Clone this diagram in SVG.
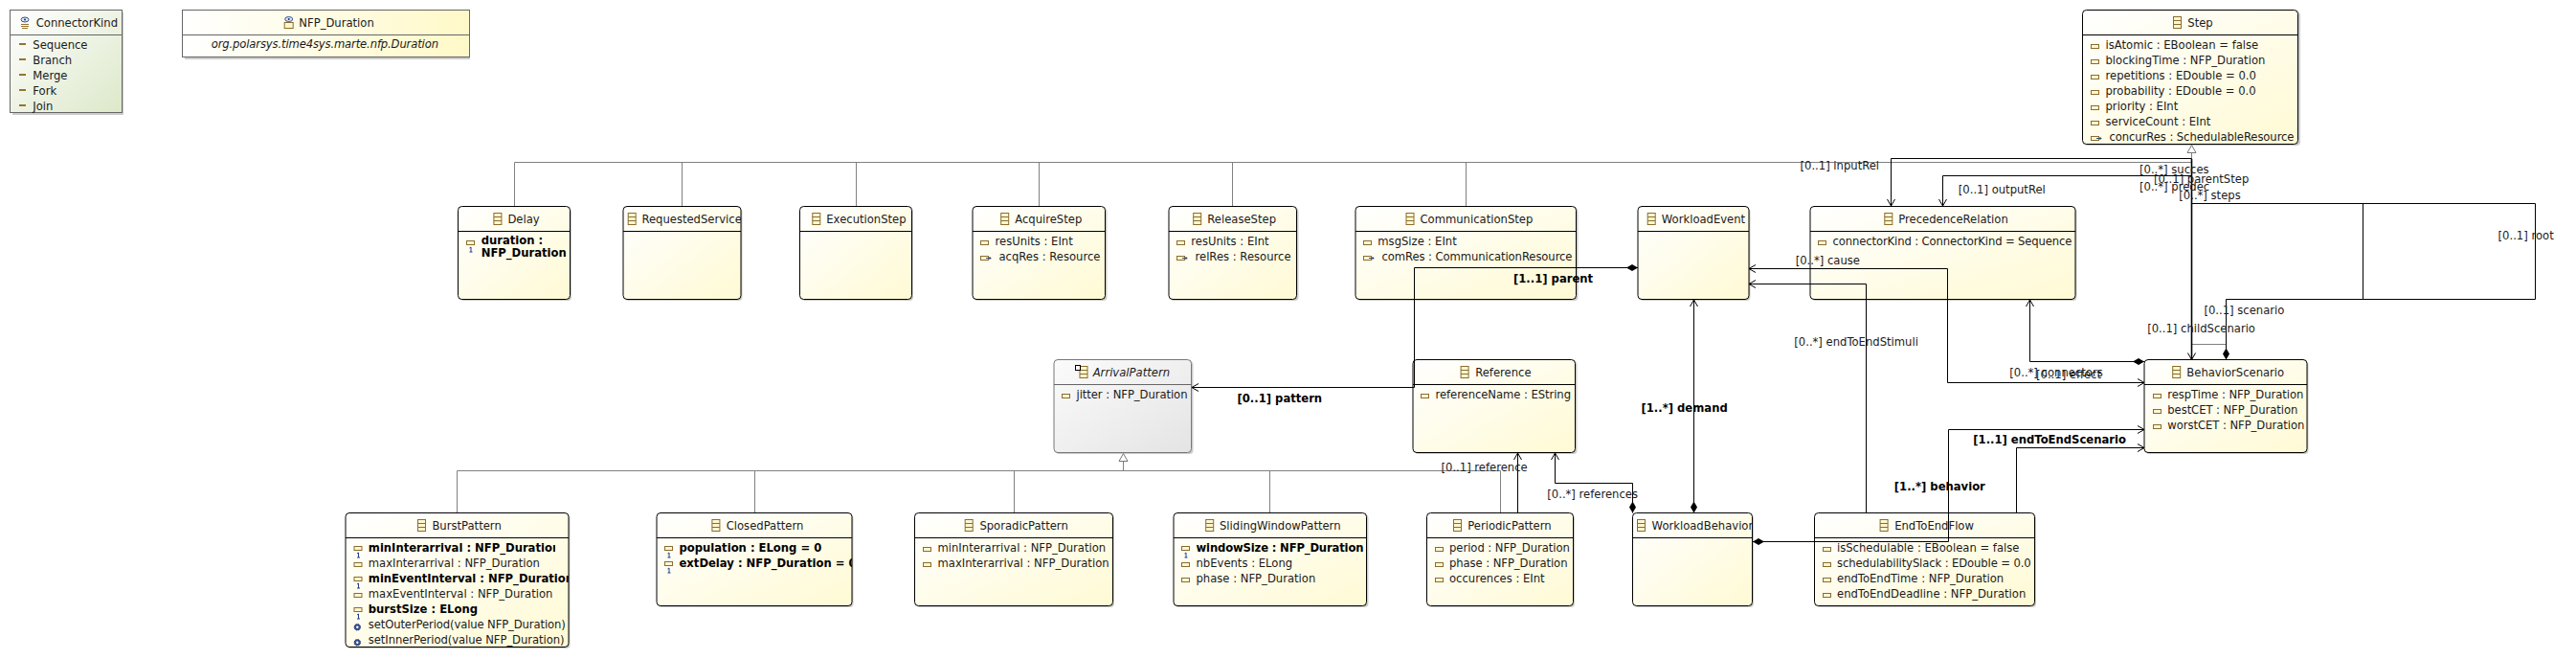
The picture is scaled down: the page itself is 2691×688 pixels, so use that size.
<svg xmlns="http://www.w3.org/2000/svg" width="2691" height="688" viewBox="0 0 2691 688">
<style>
text{font-family:"DejaVu Sans","Liberation Sans",sans-serif;font-size:11.6px;fill:#1a1a1a}
.t{font-size:11.6px}
.b,.lb{font-weight:bold;fill:#000}
.i{font-style:italic}
.box{fill:url(#gc);stroke:#000;stroke-width:1}
.abs{fill:url(#ga);stroke:#777;stroke-width:1}
.en{fill:url(#ge);stroke:#666;stroke-width:1}
.dt{fill:url(#gd);stroke:#666;stroke-width:1}
.sh{fill:#000;opacity:.2;stroke:none}
.h{stroke:#000;stroke-width:1}
.hg{stroke:#666;stroke-width:1}
.c{fill:none;stroke:#000;stroke-width:1}
.g{fill:none;stroke:#808080;stroke-width:1}
.tri{fill:#fff;stroke:#777;stroke-width:1}
.ic{fill:#fff6cf;stroke:#8a6d2f;stroke-width:1}
</style>
<defs>
<linearGradient id="gc" x1="0" y1="0" x2="1" y2="1"><stop offset="0" stop-color="#ffffff"/><stop offset="1" stop-color="#fffad4"/></linearGradient>
<linearGradient id="ga" x1="0" y1="0" x2="1" y2="1"><stop offset="0" stop-color="#fbfbfb"/><stop offset="1" stop-color="#e4e4e4"/></linearGradient>
<linearGradient id="ge" x1="0" y1="0" x2="1" y2="1"><stop offset="0" stop-color="#ffffff"/><stop offset="1" stop-color="#dce8c9"/></linearGradient>
<linearGradient id="gd" x1="0" y1="0" x2="1" y2="0"><stop offset="0" stop-color="#ffffff"/><stop offset="1" stop-color="#fff9c8"/></linearGradient>
<marker id="arr" markerUnits="userSpaceOnUse" markerWidth="12" markerHeight="12" refX="8" refY="6" orient="auto-start-reverse"><path d="M1,2 L8,6 L1,10" fill="none" stroke="#000" stroke-width="1"/></marker>
<marker id="dia" markerUnits="userSpaceOnUse" markerWidth="14" markerHeight="10" refX="13" refY="5" orient="auto-start-reverse"><path d="M1,5 L7,1.5 L13,5 L7,8.5 Z" fill="#000"/></marker>
<g id="icc"><rect class="ic" x=".5" y=".5" width="8" height="12"/><path d="M.5 4.5H8.5M.5 8.5H8.5" stroke="#8a6d2f" fill="none"/></g>
<g id="ica"><rect class="ic" x=".5" y=".5" width="8" height="4"/></g>
<g id="icr"><rect class="ic" x=".5" y=".5" width="8" height="4"/><path d="M6 2.5H11M9.5 1L11 2.5L9.5 4" stroke="#2c4a7a" fill="none"/></g>
<g id="icq"><rect class="ic" x=".5" y="-.5" width="8" height="4"/><path d="M3.5 7L5 6V11M3.5 11H6.500" stroke="#1f3f8f" fill="none"/></g>
<g id="ico"><circle cx="3.800" cy="3.800" r="3.200" fill="#39508f" stroke="#1a2f70" stroke-dasharray="1.500 1"/><circle cx="3.800" cy="3.800" r="1.200" fill="#fff"/></g>
<g id="icl"><rect x="0" y="0" width="7" height="2" fill="#94752f"/></g>
<g id="ice"><path d="M1 8.500H9M1 10.500H9M2 12.500H8" stroke="#94752f" fill="none"/><ellipse cx="5" cy="3.500" rx="4" ry="2.500" fill="#dfe7f5" stroke="#39508f"/><circle cx="5" cy="3.500" r="1" fill="#1a2f70"/></g>
<g id="icd"><rect class="ic" x=".5" y="6.500" width="9" height="6"/><ellipse cx="5" cy="3" rx="4" ry="2.500" fill="#dfe7f5" stroke="#39508f"/><circle cx="5" cy="3" r="1" fill="#1a2f70"/></g>
<clipPath id="cRS"><rect x="651" y="215" width="123" height="98"/></clipPath>
<clipPath id="cB1"><rect x="361" y="535" width="219" height="141"/></clipPath>
<clipPath id="cB2"><rect x="361" y="535" width="233" height="141"/></clipPath>
<clipPath id="cCP"><rect x="686" y="535" width="204" height="98"/></clipPath>
<clipPath id="cWB"><rect x="1705" y="535" width="125" height="98"/></clipPath>
</defs>

<g id="ConnectorKind">
<rect class="sh" x="13" y="13" width="116" height="107"/><rect class="en" x="10.500" y="10.500" width="117" height="107"/><path class="hg" d="M11 36.500H127"/>
<use href="#ice" x="21" y="17"/><text class="t" x="37.700" y="28">ConnectorKind</text>
<use href="#icl" x="20" y="45"/><text x="34.300" y="51">Sequence</text>
<use href="#icl" x="20" y="61"/><text x="34.300" y="67">Branch</text>
<use href="#icl" x="20" y="77"/><text x="34.300" y="83">Merge</text>
<use href="#icl" x="20" y="93"/><text x="34.300" y="99">Fork</text>
<use href="#icl" x="20" y="109"/><text x="34.300" y="115">Join</text>
</g>
<g id="NFP_Duration">
<rect class="sh" x="193" y="13" width="298" height="49"/><rect class="dt" x="190.500" y="10.500" width="300" height="49"/><path class="hg" d="M191 36.500H490"/>
<use href="#icd" x="296.700" y="17"/><text class="t" x="312.300" y="28">NFP_Duration</text>
<text class="i" x="220.700" y="50" textLength="237.300">org.polarsys.time4sys.marte.nfp.Duration</text>
</g>
<g id="Step">
<rect class="sh" x="2177" y="12" width="226" height="140" rx="4"/><rect class="box" x="2175.500" y="10.500" width="225" height="140" rx="4"/><path class="h" d="M2176 36.500H2401"/>
<use href="#icc" x="2270" y="17"/><text class="t" x="2285.300" y="28">Step</text>
<use href="#ica" x="2184" y="46"/><text x="2199.500" y="51">isAtomic : EBoolean = false</text>
<use href="#ica" x="2184" y="62"/><text x="2199.500" y="67">blockingTime : NFP_Duration</text>
<use href="#ica" x="2184" y="78"/><text x="2199.500" y="83">repetitions : EDouble = 0.0</text>
<use href="#ica" x="2184" y="94"/><text x="2199.500" y="99">probability : EDouble = 0.0</text>
<use href="#ica" x="2184" y="110"/><text x="2199.500" y="115">priority : EInt</text>
<use href="#ica" x="2184" y="126"/><text x="2199.500" y="131">serviceCount : EInt</text>
<use href="#icr" x="2184" y="142"/><text x="2203.500" y="147" textLength="193">concurRes : SchedulableResource</text>
</g>
<g id="Delay">
<rect class="sh" x="480" y="217" width="117" height="97" rx="4"/><rect class="box" x="478.500" y="215.500" width="117" height="97" rx="4"/><path class="h" d="M479 241.500H596"/>
<use href="#icc" x="515.400" y="222"/><text class="t" x="530.400" y="233">Delay</text>
<use href="#icq" x="487" y="252"/><text class="b" x="502.700" y="255">duration :</text><text class="b" x="502.700" y="268">NFP_Duration</text>
</g>
<g id="RequestedService">
<rect class="sh" x="652.500" y="217" width="123" height="97" rx="4"/><rect class="box" x="651" y="215.500" width="123" height="97" rx="4"/><path class="h" d="M651 241.500H774"/>
<use href="#icc" x="655.700" y="222"/><text class="t" x="670.400" y="233" clip-path="url(#cRS)">RequestedService</text>
</g>
<g id="ExecutionStep">
<rect class="sh" x="837" y="217" width="117" height="97" rx="4"/><rect class="box" x="835.500" y="215.500" width="117" height="97" rx="4"/><path class="h" d="M836 241.500H953"/>
<use href="#icc" x="848.300" y="222"/><text class="t" x="863.300" y="233">ExecutionStep</text>
</g>
<g id="AcquireStep">
<rect class="sh" x="1017.500" y="217" width="139" height="97" rx="4"/><rect class="box" x="1016" y="215.500" width="138.500" height="97" rx="4"/><path class="h" d="M1016 241.500H1155"/>
<use href="#icc" x="1045.200" y="222"/><text class="t" x="1060.200" y="233">AcquireStep</text>
<use href="#ica" x="1024" y="251"/><text x="1039.500" y="256">resUnits : EInt</text>
<use href="#icr" x="1024" y="267"/><text x="1043.500" y="272">acqRes : Resource</text>
</g>
<g id="ReleaseStep">
<rect class="sh" x="1222.500" y="217" width="134" height="97" rx="4"/><rect class="box" x="1221" y="215.500" width="133.500" height="97" rx="4"/><path class="h" d="M1221 241.500H1355"/>
<use href="#icc" x="1246.200" y="222"/><text class="t" x="1261.300" y="233">ReleaseStep</text>
<use href="#ica" x="1229" y="251"/><text x="1244.300" y="256">resUnits : EInt</text>
<use href="#icr" x="1229" y="267"/><text x="1248.500" y="272">relRes : Resource</text>
</g>
<g id="CommunicationStep">
<rect class="sh" x="1417.500" y="217" width="231" height="97" rx="4"/><rect class="box" x="1416" y="215.500" width="230.500" height="97" rx="4"/><path class="h" d="M1416 241.500H1647"/>
<use href="#icc" x="1468.500" y="222"/><text class="t" x="1483.500" y="233">CommunicationStep</text>
<use href="#ica" x="1424" y="251"/><text x="1439.300" y="256">msgSize : EInt</text>
<use href="#icr" x="1424" y="267"/><text x="1443.500" y="272" textLength="199">comRes : CommunicationResource</text>
</g>
<g id="WorkloadEvent">
<rect class="sh" x="1712.500" y="217" width="116" height="97" rx="4"/><rect class="box" x="1711" y="215.500" width="116" height="97" rx="4"/><path class="h" d="M1711 241.500H1827"/>
<use href="#icc" x="1720.700" y="222"/><text class="t" x="1735.800" y="233">WorkloadEvent</text>
</g>
<g id="PrecedenceRelation">
<rect class="sh" x="1892.500" y="217" width="277" height="97" rx="4"/><rect class="box" x="1891" y="215.500" width="277" height="97" rx="4"/><path class="h" d="M1891 241.500H2168"/>
<use href="#icc" x="1968.300" y="222"/><text class="t" x="1983.300" y="233">PrecedenceRelation</text>
<use href="#ica" x="1899" y="251"/><text x="1914.500" y="256" textLength="250">connectorKind : ConnectorKind = Sequence</text>
</g>
<g id="ArrivalPattern">
<rect class="sh" x="1102.500" y="377" width="144" height="97" rx="4"/><rect class="abs" x="1101" y="375.500" width="143.500" height="97" rx="4"/><path class="hg" d="M1101 401.500H1245"/>
<use href="#icc" x="1127.500" y="382"/><rect x="1123.500" y="381.500" width="5" height="5" fill="#fff" stroke="#000"/><text class="t i" x="1141.700" y="393">ArrivalPattern</text>
<use href="#ica" x="1109" y="411"/><text x="1124.500" y="416" textLength="116">jitter : NFP_Duration</text>
</g>
<g id="Reference">
<rect class="sh" x="1477.500" y="377" width="170" height="97" rx="4"/><rect class="box" x="1476" y="375.500" width="169.500" height="97" rx="4"/><path class="h" d="M1476 401.500H1646"/>
<use href="#icc" x="1525.600" y="382"/><text class="t" x="1541.200" y="393">Reference</text>
<use href="#ica" x="1484" y="411"/><text x="1499.500" y="416" textLength="141.500">referenceName : EString</text>
</g>
<g id="BehaviorScenario">
<rect class="sh" x="2241.500" y="377" width="170" height="97" rx="4"/><rect class="box" x="2240" y="375.500" width="170" height="97" rx="4"/><path class="h" d="M2240 401.500H2410"/>
<use href="#icc" x="2269.200" y="382"/><text class="t" x="2284.300" y="393">BehaviorScenario</text>
<use href="#ica" x="2249" y="411"/><text x="2264.300" y="416" textLength="142">respTime : NFP_Duration</text>
<use href="#ica" x="2249" y="427"/><text x="2264.300" y="432" textLength="136">bestCET : NFP_Duration</text>
<use href="#ica" x="2249" y="443"/><text x="2264.300" y="448" textLength="143">worstCET : NFP_Duration</text>
</g>
<g id="BurstPattern">
<rect class="sh" x="362.500" y="537" width="233" height="140" rx="4"/><rect class="box" x="361" y="535.500" width="233" height="140" rx="4"/><path class="h" d="M361 561.500H594"/>
<use href="#icc" x="436" y="542"/><text class="t" x="451.400" y="553">BurstPattern</text>
<use href="#icq" x="369.500" y="571"/><text class="b" x="384.800" y="576" clip-path="url(#cB1)">minInterarrival : NFP_Duration</text>
<use href="#ica" x="369.500" y="587"/><text x="384.800" y="592">maxInterarrival : NFP_Duration</text>
<use href="#icq" x="369.500" y="603"/><text class="b" x="384.800" y="608" clip-path="url(#cB2)">minEventInterval : NFP_Duration</text>
<use href="#ica" x="369.500" y="619"/><text x="384.800" y="624">maxEventInterval : NFP_Duration</text>
<use href="#icq" x="369.500" y="635"/><text class="b" x="384.800" y="640">burstSize : ELong</text>
<use href="#ico" x="369.500" y="651"/><text x="384.800" y="656" textLength="206">setOuterPeriod(value NFP_Duration)</text>
<use href="#ico" x="369.500" y="667"/><text x="384.800" y="672" textLength="204.700">setInnerPeriod(value NFP_Duration)</text>
</g>
<g id="ClosedPattern">
<rect class="sh" x="687.500" y="537" width="204" height="97" rx="4"/><rect class="box" x="686" y="535.500" width="204" height="97" rx="4"/><path class="h" d="M686 561.500H890"/>
<use href="#icc" x="743.400" y="542"/><text class="t" x="758.700" y="553">ClosedPattern</text>
<use href="#icq" x="694" y="571"/><text class="b" x="709.500" y="576">population : ELong = 0</text>
<use href="#icq" x="694" y="587"/><text class="b" x="709.500" y="592" clip-path="url(#cCP)">extDelay : NFP_Duration = 0</text>
</g>
<g id="SporadicPattern">
<rect class="sh" x="957" y="537" width="207" height="97" rx="4"/><rect class="box" x="955.500" y="535.500" width="207" height="97" rx="4"/><path class="h" d="M956 561.500H1163"/>
<use href="#icc" x="1007.700" y="542"/><text class="t" x="1023.400" y="553">SporadicPattern</text>
<use href="#ica" x="964" y="571"/><text x="979.500" y="576">minInterarrival : NFP_Duration</text>
<use href="#ica" x="964" y="587"/><text x="979.500" y="592">maxInterarrival : NFP_Duration</text>
</g>
<g id="SlidingWindowPattern">
<rect class="sh" x="1227.500" y="537" width="202" height="97" rx="4"/><rect class="box" x="1226" y="535.500" width="201.500" height="97" rx="4"/><path class="h" d="M1226 561.500H1428"/>
<use href="#icc" x="1259.200" y="542"/><text class="t" x="1274" y="553">SlidingWindowPattern</text>
<use href="#icq" x="1234" y="571"/><text class="b" x="1249.500" y="576" textLength="175">windowSize : NFP_Duration</text>
<use href="#ica" x="1234" y="587"/><text x="1249.500" y="592">nbEvents : ELong</text>
<use href="#ica" x="1234" y="603"/><text x="1249.500" y="608">phase : NFP_Duration</text>
</g>
<g id="PeriodicPattern">
<rect class="sh" x="1492" y="537" width="153" height="97" rx="4"/><rect class="box" x="1490.500" y="535.500" width="153" height="97" rx="4"/><path class="h" d="M1491 561.500H1644"/>
<use href="#icc" x="1518" y="542"/><text class="t" x="1533.200" y="553">PeriodicPattern</text>
<use href="#ica" x="1499" y="571"/><text x="1514" y="576" textLength="125.900">period : NFP_Duration</text>
<use href="#ica" x="1499" y="587"/><text x="1514" y="592" textLength="123.500">phase : NFP_Duration</text>
<use href="#ica" x="1499" y="603"/><text x="1514" y="608">occurences : EInt</text>
</g>
<g id="WorkloadBehavior">
<rect class="sh" x="1707" y="537" width="125" height="97" rx="4"/><rect class="box" x="1705.500" y="535.500" width="125" height="97" rx="4"/><path class="h" d="M1706 561.500H1831"/>
<use href="#icc" x="1710" y="542"/><text class="t" x="1725.600" y="553" clip-path="url(#cWB)">WorkloadBehavior</text>
</g>
<g id="EndToEndFlow">
<rect class="sh" x="1897" y="537" width="230" height="97" rx="4"/><rect class="box" x="1895.500" y="535.500" width="230" height="97" rx="4"/><path class="h" d="M1896 561.500H2125"/>
<use href="#icc" x="1963.600" y="542"/><text class="t" x="1979.200" y="553">EndToEndFlow</text>
<use href="#ica" x="1904" y="571"/><text x="1919" y="576">isSchedulable : EBoolean = false</text>
<use href="#ica" x="1904" y="587"/><text x="1919" y="592" textLength="202.700">schedulabilitySlack : EDouble = 0.0</text>
<use href="#ica" x="1904" y="603"/><text x="1919" y="608">endToEndTime : NFP_Duration</text>
<use href="#ica" x="1904" y="619"/><text x="1919" y="624">endToEndDeadline : NFP_Duration</text>
</g>

<g id="connectors">
<path class="g" d="M537.500 215V169.500H2289.500V159M712.500 169.500V215M894.500 169.500V215M1085.500 169.500V215M1287.500 169.500V215M1531.500 169.500V215"/>
<polygon class="tri" points="2289.500,151.500 2285,159.500 2294,159.500"/>
<path class="g" d="M477.500 535V491.500H1567.500V535M788.500 491.500V535M1059.500 491.500V535M1326.500 491.500V535M1173.500 491.500V481"/>
<polygon class="tri" points="1173.500,473.500 1169,481.500 1178,481.500"/>
<path class="g" d="M2289.500 170V359.500H2325.500V375"/>
<path class="c" marker-end="url(#arr)" d="M2289.500 165.500H1975.500V215"/>
<path class="c" marker-end="url(#arr)" d="M2289.500 183.500H2029.500V215"/>
<path class="c" style="stroke-width:1.600" d="M2289.500 166V183"/>
<path class="c" style="stroke-width:1.600" marker-end="url(#arr)" d="M2289.500 183V375.500"/>
<path class="c" marker-end="url(#dia)" d="M2289.500 212.500H2648.500V312.500H2325.500V375.500"/>
<path class="c" d="M2468.500 212.500V312.500"/>
<path class="c" marker-end="url(#dia)" d="M1477.500 404.500V279.500H1711"/>
<path class="c" marker-end="url(#arr)" d="M1477.500 404.500H1245"/>
<path class="c" marker-start="url(#arr)" marker-end="url(#arr)" d="M1827 280.500H2034.500V399.500H2240"/>
<path class="c" marker-start="url(#arr)" d="M1827 296.500H1949.500V535"/>
<path class="c" marker-start="url(#arr)" marker-end="url(#dia)" d="M2120.500 313V377.500H2240"/>
<path class="c" marker-start="url(#arr)" marker-end="url(#dia)" d="M1769.500 313V535.500"/>
<path class="c" marker-start="url(#arr)" marker-end="url(#dia)" d="M1624.500 473V504.500H1705.500V535.500"/>
<path class="c" marker-start="url(#arr)" d="M1585.500 473V535"/>
<path class="c" marker-start="url(#dia)" marker-end="url(#arr)" d="M1831 565.500H2035.500V448.500H2240"/>
<path class="c" marker-end="url(#arr)" d="M2106.500 535V467.500H2240"/>
<text x="1880.500" y="177">[0..1] inputRel</text>
<text x="2045.800" y="202">[0..1] outputRel</text>
<text x="2235" y="181">[0..*] succes</text>
<text x="2250" y="191">[0..1] parentStep</text>
<text x="2235" y="199">[0..*] predec</text>
<text x="2276.300" y="208">[0..*] steps</text>
<text x="2609.600" y="250">[0..1] root</text>
<text x="2302.400" y="328">[0..1] scenario</text>
<text x="2243.200" y="347">[0..1] childScenario</text>
<text x="2099.300" y="393">[0..*] connectors</text>
<text x="2127" y="395">[0..1] effect</text>
<text x="1875.700" y="276">[0..*] cause</text>
<text class="lb" x="1581" y="295">[1..1] parent</text>
<text class="lb" x="1292.500" y="420">[0..1] pattern</text>
<text class="lb" x="1714.500" y="430">[1..*] demand</text>
<text x="1874.300" y="361">[0..*] endToEndStimuli</text>
<text class="lb" x="1978.800" y="512">[1..*] behavior</text>
<text class="lb" x="2061.300" y="463">[1..1] endToEndScenario</text>
<text x="1505.500" y="492">[0..1] reference</text>
<text x="1616.300" y="520">[0..*] references</text>
</g>
</svg>
